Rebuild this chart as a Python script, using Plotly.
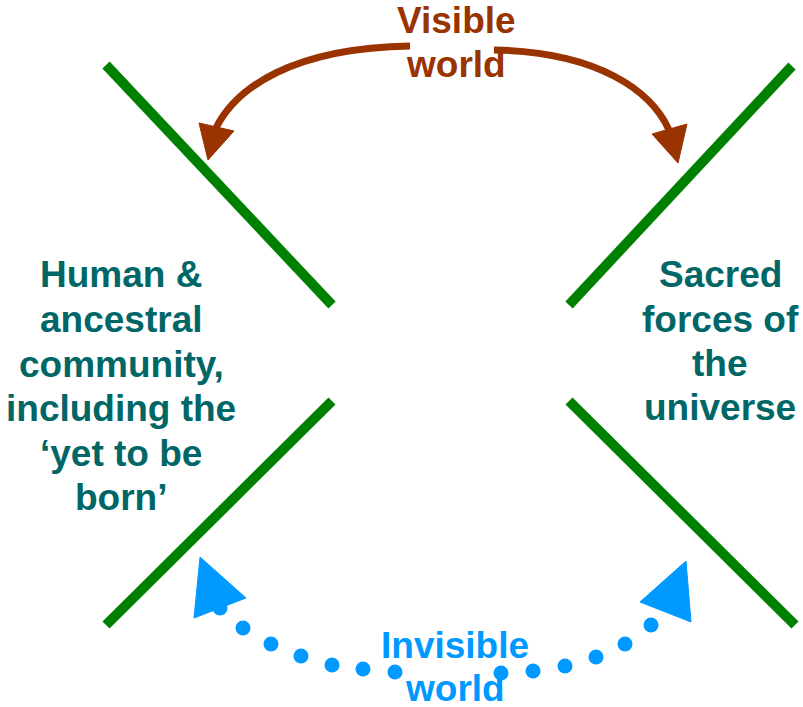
import plotly.graph_objects as go

W, H = 803, 707

# Green crossing bars (pixel coordinates: x, y from top)
bar_x = [[106, 332], [569, 792], [332, 106], [569, 795]]
bar_y = [[65, 305], [305, 66], [401, 625], [401, 625]]

# Brown "visible world" arcs (start, ctrl1, ctrl2, end)
vis_left = [(410, 46), (292, 48), (236, 88), (216, 128)]
vis_right = [(494, 50), (600, 52), (652, 92), (669, 130)]
vis_head_left = [(199, 123), (234, 131), (208, 160)]
vis_head_right = [(652, 134), (687, 124), (678, 163)]

# Blue "invisible world" dots and heads
dot_x = [220, 243, 271, 301, 332, 363, 395, 501, 533, 565, 596, 625, 651]
dot_y = [608, 628, 644, 656, 665, 669, 672, 673, 671, 666, 657, 644, 625]
inv_head_left = [(200, 557), (246, 598), (194, 618)]
inv_head_right = [(686, 561), (640, 602), (691, 622)]

# Text blocks: lines, baselines, centre x
left_lines = ["Human &", "ancestral", "community,", "including the", "‘yet to be", "born’"]
left_base = [287, 332, 377, 421, 466, 510]
left_cx = 121
right_lines = ["Sacred", "forces of", "the", "universe"]
right_base = [287, 332, 376, 420]
right_cx = 720
top_lines = ["Visible", "world"]
top_base = [33, 77]
top_cx = 456
bot_lines = ["Invisible", "world"]
bot_base = [658, 701]
bot_cx = 455

GREEN = "#008000"
BROWN = "#993300"
BLUE = "#0099FF"
TEAL = "#006666"
FONT = "Liberation Sans, Arial, sans-serif"
FS = 37

fig = go.Figure()

for xs, ys in zip(bar_x, bar_y):
    fig.add_trace(go.Scatter(x=xs, y=ys, mode="lines",
                             line=dict(color=GREEN, width=10),
                             hoverinfo="skip", showlegend=False))

fig.add_trace(go.Scatter(x=dot_x, y=dot_y, mode="markers",
                         marker=dict(color=BLUE, size=15, line=dict(width=0)),
                         hoverinfo="skip", showlegend=False))


def bez(p):
    return "M {} {} C {} {}, {} {}, {} {}".format(*p[0], *p[1], *p[2], *p[3])


def tri(p):
    return "M {} {} L {} {} L {} {} Z".format(*p[0], *p[1], *p[2])


shapes = []
for c in (vis_left, vis_right):
    shapes.append(dict(type="path", path=bez(c), xref="x", yref="y",
                       line=dict(color=BROWN, width=7)))
for t in (vis_head_left, vis_head_right):
    shapes.append(dict(type="path", path=tri(t), xref="x", yref="y",
                       fillcolor=BROWN, line=dict(color=BROWN, width=1)))
for t in (inv_head_left, inv_head_right):
    shapes.append(dict(type="path", path=tri(t), xref="x", yref="y",
                       fillcolor=BLUE, line=dict(color=BLUE, width=1)))

annotations = []


def add_block(lines, bases, cx, color):
    for txt, b in zip(lines, bases):
        annotations.append(dict(x=cx, y=b - 13, xref="x", yref="y",
                                text="<b>" + txt + "</b>", showarrow=False,
                                xanchor="center", yanchor="middle",
                                font=dict(family=FONT, size=FS, color=color)))


add_block(left_lines, left_base, left_cx, TEAL)
add_block(right_lines, right_base, right_cx, TEAL)
add_block(top_lines, top_base, top_cx, BROWN)
add_block(bot_lines, bot_base, bot_cx, BLUE)

fig.update_layout(
    width=W, height=H,
    margin=dict(l=0, r=0, t=0, b=0),
    paper_bgcolor="white", plot_bgcolor="white",
    xaxis=dict(range=[0, W], visible=False, fixedrange=True),
    yaxis=dict(range=[H, 0], visible=False, fixedrange=True),
    shapes=shapes, annotations=annotations,
)

fig.write_html("out.html", config={"displayModeBar": False},
               post_script="document.body.style.margin='0';document.body.style.overflow='hidden';")
